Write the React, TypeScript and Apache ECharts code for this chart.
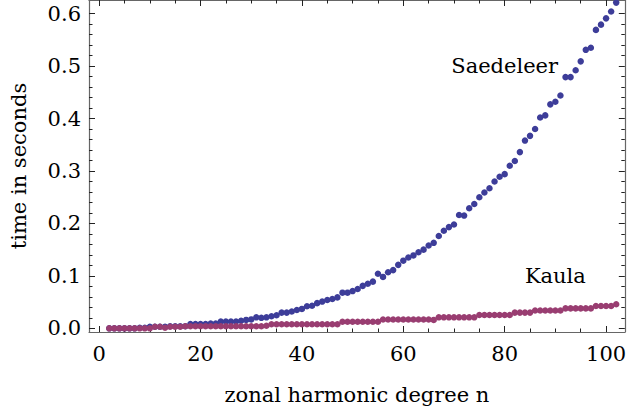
import React, { useEffect, useRef } from "react";
import * as echarts from "echarts";

const degrees = [
  2, 3, 4, 5, 6, 7, 8, 9, 10, 11, 12, 13, 14, 15, 16, 17, 18, 19, 20, 21, 22,
  23, 24, 25, 26, 27, 28, 29, 30, 31, 32, 33, 34, 35, 36, 37, 38, 39, 40, 41,
  42, 43, 44, 45, 46, 47, 48, 49, 50, 51, 52, 53, 54, 55, 56, 57, 58, 59, 60,
  61, 62, 63, 64, 65, 66, 67, 68, 69, 70, 71, 72, 73, 74, 75, 76, 77, 78, 79,
  80, 81, 82, 83, 84, 85, 86, 87, 88, 89, 90, 91, 92, 93, 94, 95, 96, 97, 98,
  99, 100, 101, 102,
];

const saedeleer = [
  0, 0, 0, 0, 0, 0, 0.001, 0.001,
  0.003, 0.003, 0.003, 0.003, 0.004, 0.004, 0.004, 0.004,
  0.008, 0.008, 0.008, 0.008, 0.009, 0.009,
  0.013, 0.013, 0.013, 0.013,
  0.0145, 0.016, 0.017,
  0.021, 0.02, 0.021, 0.023, 0.025, 0.03, 0.03, 0.032, 0.035, 0.037,
  0.042, 0.043, 0.048, 0.051, 0.054, 0.056, 0.059, 0.068, 0.068, 0.071,
  0.075, 0.081, 0.085, 0.089, 0.104, 0.098, 0.107, 0.111, 0.121, 0.129,
  0.135, 0.139, 0.145, 0.15, 0.158, 0.163, 0.176, 0.186, 0.193, 0.198,
  0.216, 0.215, 0.229, 0.237, 0.25, 0.259, 0.267, 0.28, 0.289, 0.294,
  0.31, 0.319, 0.336, 0.358, 0.367, 0.38, 0.402, 0.406, 0.427, 0.432,
  0.444, 0.479, 0.479, 0.492, 0.509, 0.531, 0.535, 0.569, 0.579, 0.591,
  0.604, 0.621,
];

const kaula = [
  0, 0, 0, 0, 0, 0, 0, 0, 0,
  0.003, 0.003, 0.001, 0.003, 0.003, 0.003,
  0.004, 0.004, 0.004, 0.004, 0.004, 0.004, 0.004, 0.004,
  0.004, 0.004, 0.004, 0.004, 0.004, 0.004, 0.004, 0.004,
  0.005,
  0.0078, 0.0078, 0.0078, 0.0078, 0.0078, 0.0078, 0.0078,
  0.0078, 0.0078, 0.0078, 0.0078, 0.0078, 0.0078, 0.0078,
  0.0125, 0.0125, 0.0125, 0.0125, 0.0125, 0.0125, 0.0125, 0.0125,
  0.0168, 0.0168, 0.0168, 0.0168, 0.0168, 0.0168, 0.0168, 0.0168, 0.0168, 0.0168, 0.016,
  0.021, 0.021, 0.021, 0.021, 0.021, 0.021, 0.021, 0.021,
  0.0255, 0.0255, 0.0255, 0.0255, 0.0255, 0.0255, 0.0255,
  0.03, 0.03, 0.03, 0.03,
  0.034, 0.034, 0.034, 0.034, 0.034, 0.034,
  0.038, 0.038, 0.038, 0.038, 0.038, 0.038,
  0.0425, 0.0425, 0.0425, 0.0425,
  0.046,
];

const xMajorTicks = [0, 20, 40, 60, 80, 100];
const xMinorTicks = [5, 10, 15, 25, 30, 35, 45, 50, 55, 65, 70, 75, 85, 90, 95];
const yMajorTicks = [0, 0.1, 0.2, 0.3, 0.4, 0.5, 0.6];
const yMinorTicks = [
  0.02, 0.04, 0.06, 0.08, 0.12, 0.14, 0.16, 0.18, 0.22, 0.24, 0.26, 0.28,
  0.32, 0.34, 0.36, 0.38, 0.42, 0.44, 0.46, 0.48, 0.52, 0.54, 0.56, 0.58,
];

const seriesNames = ["Saedeleer", "Kaula"];
const labelX = [80, 90];
const labelY = [0.5, 0.1];

const X_MIN = -2;
const X_MAX = 103.7;
const Y_MIN = -0.007;
const Y_MAX = 0.626;

const FONT = "DejaVu Serif";
const TEXT = "#000000";
const FRAME = "#666666";
const TICK = "#222222";

export default function App() {
  const ref = useRef<HTMLDivElement>(null);

  useEffect(() => {
    if (!ref.current) return;
    const chart = echarts.init(ref.current, undefined, { renderer: "svg" });

    const mkX = (position: string, ticks: number[], len: number, line: boolean, labels: boolean, extra: any = {}) => ({
      type: "value",
      position,
      min: X_MIN,
      max: X_MAX,
      splitLine: { show: false },
      axisLine: { show: line, onZero: false, lineStyle: { color: FRAME, width: 1.2 } },
      axisTick: { show: true, inside: true, length: len, customValues: ticks, lineStyle: { color: TICK, width: 1 } },
      axisLabel: labels
        ? { show: true, customValues: ticks, fontFamily: FONT, fontSize: 21, color: TEXT, margin: 11 }
        : { show: false },
      ...extra,
    });
    const mkY = (position: string, ticks: number[], len: number, line: boolean, labels: boolean, extra: any = {}) => ({
      type: "value",
      position,
      min: Y_MIN,
      max: Y_MAX,
      splitLine: { show: false },
      axisLine: { show: line, onZero: false, lineStyle: { color: FRAME, width: 1.2 } },
      axisTick: { show: true, inside: true, length: len, customValues: ticks, lineStyle: { color: TICK, width: 1 } },
      axisLabel: labels
        ? {
            show: true,
            customValues: ticks,
            fontFamily: FONT,
            fontSize: 21,
            color: TEXT,
            margin: 8,
            formatter: (v: number) => v.toFixed(1),
          }
        : { show: false },
      ...extra,
    });

    chart.setOption({
      animation: false,
      backgroundColor: "#ffffff",
      grid: { left: 86, right: 3, top: -1, bottom: 82, containLabel: false },
      xAxis: [
        mkX("bottom", xMajorTicks, 6, true, true, {
          name: "zonal harmonic degree n",
          nameLocation: "middle",
          nameGap: 52,
          nameTextStyle: { fontFamily: FONT, fontSize: 21, color: TEXT },
        }),
        mkX("bottom", xMinorTicks, 3.5, false, false),
        mkX("top", xMajorTicks, 6, true, false),
        mkX("top", xMinorTicks, 3.5, false, false),
      ],
      yAxis: [
        mkY("left", yMajorTicks, 6, true, true, {
          name: "time in seconds",
          nameLocation: "middle",
          nameGap: 60,
          nameRotate: 90,
          nameTextStyle: { fontFamily: FONT, fontSize: 21, color: TEXT },
        }),
        mkY("left", yMinorTicks, 3.5, false, false),
        mkY("right", yMajorTicks, 6, true, false),
        mkY("right", yMinorTicks, 3.5, false, false),
      ],
      series: [
        {
          name: seriesNames[0],
          type: "scatter",
          xAxisIndex: 0,
          yAxisIndex: 0,
          symbolSize: 6.5,
          itemStyle: { color: "#3d3d99", opacity: 1 },
          data: degrees.map((n, i) => [n, saedeleer[i]]),
        },
        {
          name: seriesNames[1],
          type: "scatter",
          xAxisIndex: 0,
          yAxisIndex: 0,
          symbolSize: 6.5,
          itemStyle: { color: "#993d71", opacity: 1 },
          data: degrees.map((n, i) => [n, kaula[i]]),
        },
        {
          name: "labels",
          type: "scatter",
          xAxisIndex: 0,
          yAxisIndex: 0,
          symbolSize: 0,
          silent: true,
          itemStyle: { opacity: 1 },
          label: {
            show: true,
            position: "inside",
            fontFamily: FONT,
            fontSize: 21,
            color: TEXT,
            textBorderWidth: 0,
            opacity: 1,
            formatter: (p: any) => p.value[2],
          },
          data: seriesNames.map((s, i) => [labelX[i], labelY[i], s]),
        },
      ],
    });

    return () => chart.dispose();
  }, []);

  return (
    <div
      ref={ref}
      style={{ position: "fixed", left: 0, top: 0, width: 629, height: 414, background: "#fff" }}
    />
  );
}
